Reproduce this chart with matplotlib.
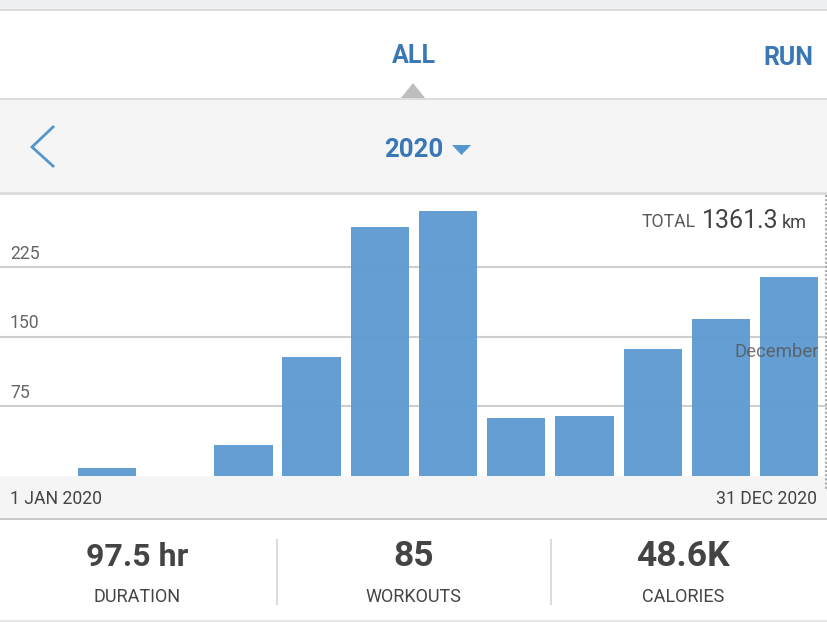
import matplotlib
matplotlib.use('Agg')
import matplotlib.pyplot as plt
from matplotlib.patches import Polygon, Rectangle

months = ['January', 'February', 'March', 'April', 'May', 'June', 'July',
          'August', 'September', 'October', 'November', 'December']
km = [0, 8.5, 0, 33, 128, 268, 285, 62, 65, 137, 169, 214]
y_ticks = [75, 150, 225]
y_tick_labels = ['75', '150', '225']
stat_values = ['97.5 hr', '85', '48.6K']
stat_names = ['DURATION', 'WORKOUTS', 'CALORIES']

W, H = 828, 622
BLUE = '#3a78b5'
BAR = '#5f9ad0'
DARK = '#444444'
RULE = '#dcdcdc'
PANEL = '#f5f5f5'

plt.rcParams['font.family'] = ['Roboto', 'DejaVu Sans']
fig = plt.figure(figsize=(W / 100, H / 100), dpi=100, facecolor='white')

# the app screen around the chart, in pixel coordinates
bg = fig.add_axes([0, 0, 1, 1])
bg.set_xlim(0, W)
bg.set_ylim(H, 0)
bg.axis('off')


def band(y0, y1, color):
    bg.add_patch(Rectangle((0, y0), W, y1 - y0, color=color, lw=0))


band(0, 9, '#eff0f3')
band(9, 10.5, RULE)
band(99, 192, PANEL)
band(98, 100, RULE)
band(192, 195, RULE)
band(476, 518, PANEL)
band(518, 520, '#c8c8c8')
band(620, 622, '#e6e6e6')

bg.text(413.5, 56, 'ALL', color=BLUE, fontsize=18, weight='bold', ha='center', va='center')
bg.text(788, 58, 'RUN', color=BLUE, fontsize=18, weight='bold', ha='center', va='center')
bg.add_patch(Polygon([(401, 98), (413, 83), (425, 98)], color='#bdbdbd', lw=0))
bg.plot([53, 32, 53], [127, 147, 166], color='#5596cf', lw=2, solid_joinstyle='miter')
bg.text(414, 150, '2020', color=BLUE, fontsize=18.5, weight='bold', ha='center', va='center')
bg.add_patch(Polygon([(452, 145), (471, 145), (461.5, 155)], color='#5596cf', lw=0))

bg.text(10, 499, '1 JAN 2020', color=DARK, fontsize=12.7, ha='left', va='center')
bg.text(817, 499, '31 DEC 2020', color=DARK, fontsize=12.7, ha='right', va='center')

for x, value, name, size in zip([137, 413.5, 683], stat_values, stat_names, [23, 25.5, 25.5]):
    bg.text(x, 557, value, color=DARK, fontsize=size, weight='bold', ha='center', va='center')
    bg.text(x, 597, name, color=DARK, fontsize=13, ha='center', va='center')
for x in [277, 551]:
    bg.plot([x, x], [540, 604], color=RULE, lw=1.5)

# the chart itself
ax = fig.add_axes([0, (H - 476) / H, 1, (476 - 195) / H])
ax.patch.set_alpha(0)
ax.set_xlim(-0.569, 11.57)
ax.set_ylim(0, 302.5)
for side in ax.spines.values():
    side.set_visible(False)
ax.tick_params(left=False, bottom=False, labelleft=False, labelbottom=False)
for value, label in zip(y_ticks, y_tick_labels):
    ax.axhline(value, color='#cfcfcf', lw=1.5, zorder=1)
    ax.annotate(label, xy=(10, value), xycoords=('figure pixels', 'data'),
                xytext=(0, 3), textcoords='offset points', color='#666666',
                fontsize=12.7, va='bottom', ha='left')
ax.bar(range(len(km)), km, width=0.855, color=BAR, alpha=0.96, zorder=2)

# labels that sit over the bars
top = fig.add_axes([0, 0, 1, 1])
top.set_xlim(0, W)
top.set_ylim(H, 0)
top.axis('off')
top.patch.set_alpha(0)
top.text(819, 352, months[-1], color='#555555', alpha=0.8, fontsize=13.4,
         ha='right', va='center')
top.text(696, 222, 'TOTAL', color='#5a5a5a', fontsize=12.7, ha='right', va='center')
top.text(779, 221, '1361.3', color=DARK, fontsize=18, ha='right', va='center')
top.text(807, 223, 'km', color=DARK, fontsize=13, ha='right', va='center')
top.plot([826.5, 826.5], [195, 490], color='#aaaaaa', lw=1.5, ls=(0, (1, 1)))

fig.savefig('out.png', dpi=100)
